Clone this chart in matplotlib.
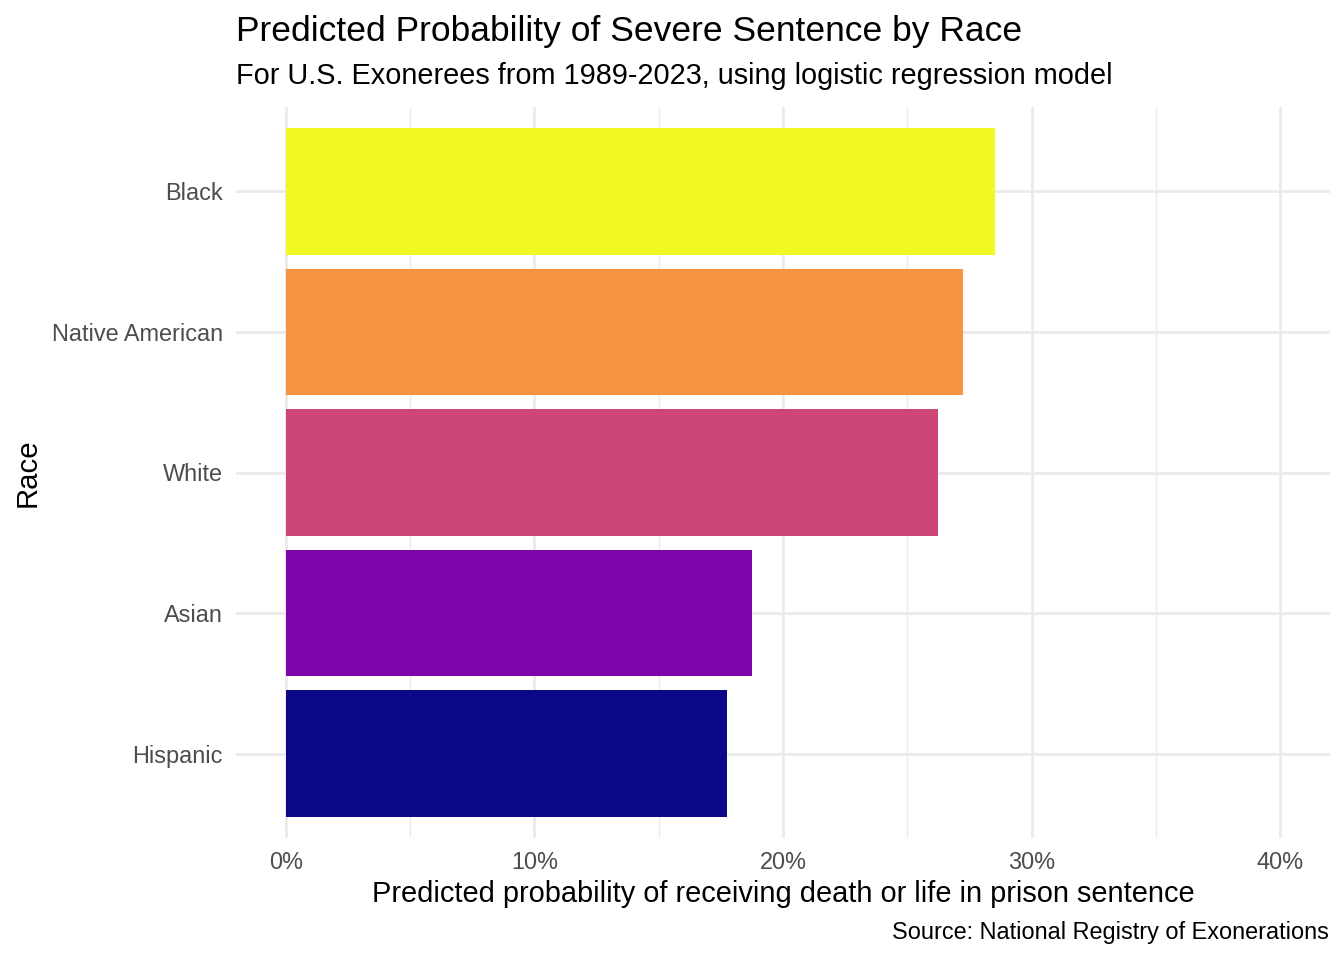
import matplotlib
matplotlib.use("Agg")
import matplotlib.pyplot as plt
from matplotlib.ticker import FuncFormatter, MultipleLocator

plt.rcParams['font.family'] = ['Liberation Sans', 'DejaVu Sans']

# predicted probabilities, ordered bottom to top
races = ['Hispanic', 'Asian', 'White', 'Native American', 'Black']
probs = [0.1773, 0.1874, 0.2622, 0.2722, 0.2851]
# plasma palette, 5 levels
colors = ['#0D0887', '#7E03A8', '#CC4678', '#F89441', '#F0F921']
x_ticks = [0.0, 0.1, 0.2, 0.3, 0.4]

fig = plt.figure(figsize=(7, 5), dpi=192)
ax = fig.add_axes([236/1344, 1 - 838/960, (1330-236)/1344, (838-107)/960])

ypos = list(range(len(races)))
ax.barh(ypos, probs, height=0.9, color=colors, zorder=2)

ax.set_xlim(-0.02, 0.42)
ax.set_ylim(-0.6, len(races) - 0.4)
ax.set_xticks(x_ticks)
ax.xaxis.set_minor_locator(MultipleLocator(0.05))
ax.xaxis.set_major_formatter(FuncFormatter(lambda v, p: f"{v*100:.0f}%"))
ax.set_yticks(ypos)
ax.set_yticklabels(races)

ax.grid(which='major', axis='both', color='#EBEBEB', linewidth=1.07, zorder=0)
ax.grid(which='minor', axis='x', color='#EBEBEB', linewidth=0.53, zorder=0)
ax.set_axisbelow(True)
for s in ax.spines.values():
    s.set_visible(False)
ax.tick_params(which='both', length=0)
ax.tick_params(axis='x', labelsize=8.8, labelcolor='#4D4D4D', pad=4.95)
ax.tick_params(axis='y', labelsize=8.8, labelcolor='#4D4D4D', pad=4.95)

ax.set_xlabel('Predicted probability of receiving death or life in prison sentence',
              fontsize=10.9, labelpad=2.0)
ax.set_ylabel('Race', fontsize=11, labelpad=3.8)

fig.text(236/1344, 1 - 41.5/960, 'Predicted Probability of Severe Sentence by Race',
         fontsize=13.25, ha='left', va='baseline')
fig.text(236/1344, 1 - 83.5/960, 'For U.S. Exonerees from 1989-2023, using logistic regression model',
         fontsize=10.85, ha='left', va='baseline')
fig.text(1329/1344, 1 - 939.5/960, 'Source: National Registry of Exonerations',
         fontsize=8.8, ha='right', va='baseline')

fig.savefig('out.png', dpi=192, facecolor='white')
